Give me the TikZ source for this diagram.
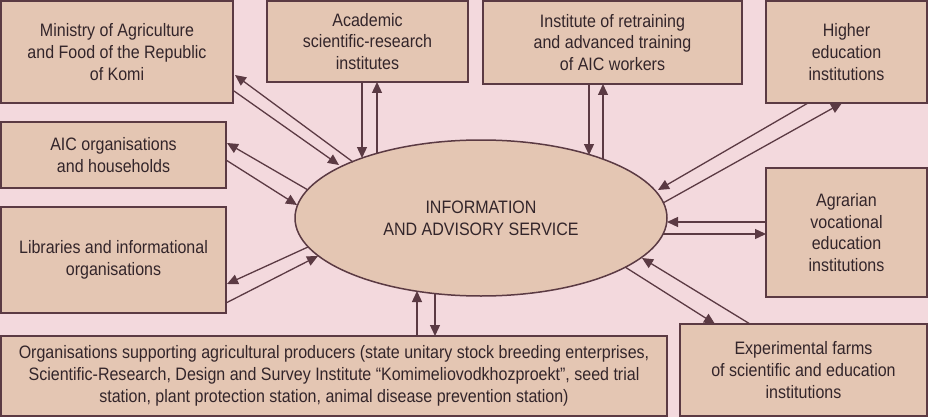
\documentclass[tikz,border=0pt]{standalone}
\usepackage{fontspec}
\setmainfont{Liberation Sans}[FakeStretch=0.89]
\usetikzlibrary{arrows.meta,shapes.geometric}
\definecolor{bg}{HTML}{F3D9DD}
\definecolor{boxfill}{HTML}{E4C6B3}
\definecolor{edgec}{HTML}{5B3A43}
\definecolor{txt}{HTML}{33252A}
\begin{document}
\begin{tikzpicture}[x=1pt,y=-1pt,
  box/.style={draw=edgec, fill=boxfill, line width=1.5pt, inner sep=0pt, align=center, text=txt, font=\fontsize{18}{21.7}\selectfont},
  link/.style={draw=edgec, line width=1.3pt, -{Triangle[length=11pt,width=10pt]}}]
\fill[bg] (0,0) rectangle (928,417);
\useasboundingbox (0,0) rectangle (928,417);
% boxes
\node[box, minimum width=232pt, minimum height=102pt] (min) at (117,52) {Ministry of Agriculture\\and Food of the Republic\\of Komi};
\node[box, minimum width=225pt, minimum height=66pt] (aic) at (113.5,155) {AIC organisations\\and households};
\node[box, minimum width=225pt, minimum height=106pt] (lib) at (113.5,260) {Libraries and informational\\organisations};
\node[box, minimum width=666pt, minimum height=80pt] (org) at (334,376) {Organisations supporting agricultural producers (state unitary stock breeding enterprises,\\Scientific-Research, Design and Survey Institute “Komimeliovodkhozproekt”, seed trial\\station, plant protection station, animal disease prevention station)};
\node[box, minimum width=247pt, minimum height=92pt] (exp) at (803.5,370) {Experimental farms\\of scientific and education\\institutions};
\node[box, minimum width=161pt, minimum height=129pt] (agr) at (846.5,232.5) {Agrarian\\vocational\\education\\institutions};
\node[box, minimum width=161pt, minimum height=102pt] (hei) at (846.5,52) {Higher\\education\\institutions};
\node[box, minimum width=201pt, minimum height=81pt] (aca) at (367.5,41.5) {Academic\\scientific-research\\institutes};
\node[box, minimum width=259pt, minimum height=83pt] (ins) at (612.5,42.5) {Institute of retraining\\and advanced training\\of AIC workers};
% centre
\node[box, ellipse, minimum width=372pt, minimum height=156pt] (E) at (481,218) {INFORMATION\\AND ADVISORY SERVICE};
% connector end points
\coordinate (m1s) at (353,162); \coordinate (m1e) at (235,75);
\coordinate (m2s) at (234,91);  \coordinate (m2e) at (339,165);
\coordinate (a1s) at (362,82);  \coordinate (a1e) at (362,158);
\coordinate (a2s) at (377,153); \coordinate (a2e) at (377,82);
\coordinate (i1s) at (589,84);  \coordinate (i1e) at (589,155);
\coordinate (i2s) at (603,159); \coordinate (i2e) at (603,84);
\coordinate (h1s) at (808,103); \coordinate (h1e) at (658,190);
\coordinate (h2s) at (663,203); \coordinate (h2e) at (842,103);
\coordinate (g1s) at (766,222); \coordinate (g1e) at (667,222);
\coordinate (g2s) at (663,234); \coordinate (g2e) at (766,234);
\coordinate (x1s) at (750,324); \coordinate (x1e) at (642,258);
\coordinate (x2s) at (625,267); \coordinate (x2e) at (715,324);
\coordinate (o1s) at (417,336); \coordinate (o1e) at (417,291);
\coordinate (o2s) at (435,294); \coordinate (o2e) at (435,336);
\coordinate (l1s) at (308,247); \coordinate (l1e) at (227,284);
\coordinate (l2s) at (226,303); \coordinate (l2e) at (318,256);
\coordinate (c1s) at (308,190); \coordinate (c1e) at (227,143);
\coordinate (c2s) at (226,160); \coordinate (c2e) at (297,205);
% connectors
\foreach \p in {m1,m2,a1,a2,i1,i2,h1,h2,g1,g2,x1,x2,o1,o2,l1,l2,c1,c2}
  \draw[link] (\p s) -- (\p e);
\end{tikzpicture}
\end{document}
